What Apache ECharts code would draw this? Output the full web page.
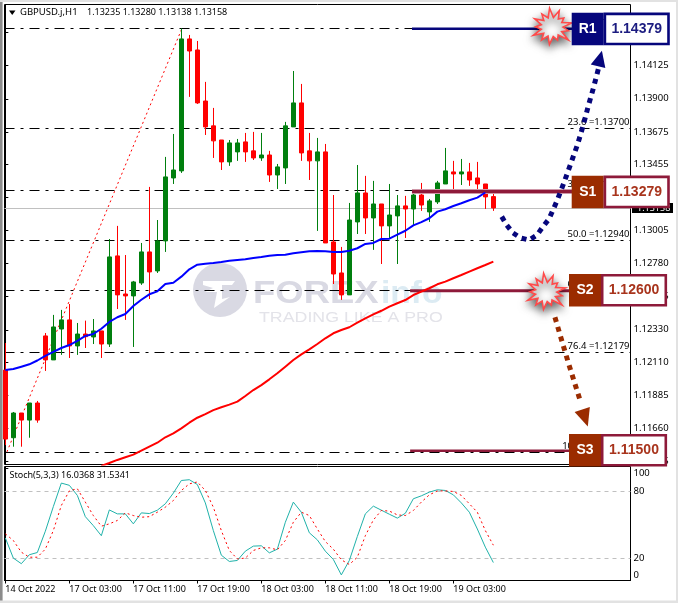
<!DOCTYPE html>
<html><head><meta charset="utf-8">
<style>html,body{margin:0;padding:0;background:#fff}#c{width:678px;height:603px}</style>
<script src="https://cdn.jsdelivr.net/npm/echarts@6/dist/echarts.min.js"></script>
</head><body><div id="c"></div>
<script>
const opens=[1.12056,1.11596,1.11764,1.11716,1.11832,1.12288,1.12125,1.12335,1.12397,1.12220,1.12301,1.12281,1.12322,1.12233,1.12832,1.12573,1.12560,1.12648,1.12859,1.12730,1.12934,1.13362,1.13410,1.14307,1.14232,1.13885,1.13716,1.13620,1.13471,1.13539,1.13607,1.13546,1.13498,1.13518,1.13382,1.13430,1.13709,1.13872,1.13546,1.13478,1.13539,1.12927,1.12716,1.12567,1.13063,1.13260,1.13090,1.13185,1.13036,1.13104,1.13172,1.13151,1.13246,1.13131,1.13199,1.13321,1.13403,1.13389,1.13403,1.13362,1.13321,1.13235];
const closes=[1.11587,1.11764,1.11716,1.11832,1.11716,1.12125,1.12349,1.12397,1.12220,1.12301,1.12283,1.12322,1.12233,1.12825,1.12567,1.12560,1.12655,1.12859,1.12723,1.12934,1.13369,1.13416,1.14307,1.14225,1.13872,1.13709,1.13614,1.13471,1.13600,1.13600,1.13539,1.13498,1.13518,1.13382,1.13437,1.13716,1.13872,1.13532,1.13478,1.13539,1.12920,1.12709,1.12567,1.13076,1.13260,1.13090,1.13185,1.13036,1.13110,1.13172,1.13151,1.13246,1.13178,1.13206,1.13328,1.13410,1.13389,1.13403,1.13348,1.13321,1.13233,1.13158];
const lows=[1.11546,1.11535,1.11535,1.11596,1.11698,1.12050,1.12125,1.12159,1.12138,1.12159,1.12206,1.12233,1.12138,1.12213,1.12471,1.12397,1.12213,1.12635,1.12539,1.12716,1.12859,1.13321,1.13396,1.13913,1.13865,1.13654,1.13498,1.13416,1.13444,1.13478,1.13471,1.13484,1.13478,1.13335,1.13287,1.13321,1.13709,1.13478,1.13348,1.13002,1.12920,1.12641,1.12533,1.12567,1.12981,1.12981,1.12873,1.12777,1.12954,1.12777,1.12954,1.13042,1.13138,1.13063,1.13185,1.13321,1.13274,1.13314,1.13308,1.13267,1.13151,1.13138];
const highs=[1.12240,1.11771,1.11764,1.11832,1.11846,1.12308,1.12431,1.12465,1.12505,1.12376,1.12392,1.12403,1.12322,1.12947,1.13036,1.12838,1.12662,1.12920,1.13301,1.13076,1.13505,1.13661,1.14379,1.14334,1.14293,1.14015,1.13838,1.13620,1.13620,1.13627,1.13668,1.13675,1.13668,1.13546,1.13457,1.13743,1.14089,1.14001,1.13668,1.13634,1.13593,1.13246,1.12893,1.13192,1.13450,1.13376,1.13342,1.13185,1.13321,1.13246,1.13240,1.13280,1.13328,1.13219,1.13342,1.13566,1.13478,1.13491,1.13464,1.13471,1.13321,1.13280];
const blueMA=[1.12056,1.12063,1.12079,1.12095,1.12121,1.12152,1.12179,1.12206,1.12226,1.12254,1.12288,1.12301,1.12337,1.12383,1.12415,1.12437,1.12491,1.12534,1.12571,1.12591,1.12641,1.12650,1.12691,1.12741,1.12772,1.12779,1.12784,1.12791,1.12799,1.12804,1.12809,1.12818,1.12825,1.12833,1.12838,1.12840,1.12850,1.12857,1.12863,1.12865,1.12863,1.12859,1.12859,1.12867,1.12884,1.12913,1.12920,1.12947,1.12949,1.12976,1.13003,1.13040,1.13062,1.13088,1.13133,1.13149,1.13171,1.13190,1.13210,1.13228,1.13263];
const redMAStart=12;
const redMA=[1.11404,1.11424,1.11445,1.11463,1.11481,1.11508,1.11535,1.11562,1.11599,1.11626,1.11660,1.11698,1.11732,1.11757,1.11784,1.11803,1.11821,1.11841,1.11880,1.11920,1.11954,1.11993,1.12034,1.12079,1.12124,1.12163,1.12197,1.12233,1.12272,1.12306,1.12328,1.12347,1.12378,1.12408,1.12435,1.12459,1.12487,1.12510,1.12532,1.12566,1.12589,1.12612,1.12639,1.12657,1.12680,1.12702,1.12725,1.12748,1.12770,1.12793];
const stochK=[38,20,15,23,25,44,66,87,85,76,57,49,40,63,59.5,59.5,50.6,60.4,59.8,62.8,68.5,78,89.3,90,85.7,69.3,44.6,22.6,17,17.9,26.2,30.7,31,24.7,28,52,70,61,42.6,36.3,26.2,18.8,5,17.9,39.3,59.5,66.4,62.8,59.2,55.7,60,73,75.6,78.9,81,80.4,76.5,69.3,61,46,29.8,16.04];
const stochD=[41.7,35.7,25.3,20.8,20.8,28,44.6,67,80,82,70,58,48.5,50.6,53.6,60.4,58,56.5,57,61,65.5,71.4,80.4,86.3,88,80.4,65.5,44.6,26.8,19.3,20,26.8,29.2,29.2,27.4,35.7,52,61,58,46,34.8,28,18.5,14.3,20.8,40,54,62.5,62,58.6,58,62.5,70,76.5,80,80,79.5,76,68.5,61,44.6,31.53];
const timeTicks=[0,8,16,24,32,40,48,56];
const timeLabels=['14 Oct 2022','17 Oct 03:00','17 Oct 11:00','17 Oct 19:00','18 Oct 03:00','18 Oct 11:00','18 Oct 19:00','19 Oct 03:00'];
const priceTicks=[1.14350,1.14125,1.13900,1.13675,1.13455,1.13230,1.13005,1.12780,1.12555,1.12330,1.12110,1.11885,1.11660,1.11435];
const stochTicks=[0,20,80,100];
const stochLevels=[20,80];
const fibRatios=['0.0','23.6','38.2','50.0','61.8','76.4','100.0'];
const fibPrices=[1.14379,1.13700,1.13279,1.12940,1.12600,1.12179,1.11500];
const lastPrice=1.13158;
const fibTrend=[[0.2,1.11500],[22.08,1.14379]];
const r1Line=[[50.83,1.14377],[70.83,1.14377]];
const s1Line=[[50.83,1.13270],[70.83,1.13270]];
const s2Line=[[50.6,1.12595],[70.6,1.12595]];
const s3Line=[[50.6,1.11508],[70.6,1.11508]];
const upPath=[[62.05,1.13099],[62.67,1.13042],[63.46,1.12988],[64.42,1.12954],[65.46,1.12940],[66.46,1.12974],[67.21,1.13031],[67.96,1.13083],[68.96,1.13206],[69.83,1.13330],[70.71,1.13464],[71.55,1.13593],[72.25,1.13722],[72.87,1.13851],[73.55,1.13981],[74.17,1.14112]];
const upArrow=[74.33,1.14174];
const downPath=[[68.7,1.12415],[69.75,1.12220],[70.46,1.12091],[71.96,1.11830]];
const downArrow=[72.46,1.11730];

const FONT='"Noto Sans",sans-serif';
const NAVY='#06067c',BROWN='#9b2c00',MAROON='#8e1a3a',RED='#ff0000',GREEN='#007f0e';
const xMin=-0.104,xMax=78.146;
const candles=opens.map((o,i)=>[i,o,closes[i],lows[i],highs[i]]);
const lineS=(name,data,color,width,type,extra)=>Object.assign({name,type:'line',data,showSymbol:false,symbol:'none',silent:true,animation:false,
  lineStyle:{color,width,type:type||'solid',opacity:1},z:3},extra||{});

function burst(cx,cy,rx,ry){
  const outer=[1,.78,1.02,.85,1.1,.8,1,.9,1.05,.82,.98,.9,1.08];
  const pts=[];
  const n=outer.length;
  for(let k=0;k<n;k++){
    const a=2*Math.PI*k/n-1.2, b=a+Math.PI/n;
    pts.push([cx+rx*outer[k]*Math.cos(a),cy+ry*outer[k]*Math.sin(a)]);
    pts.push([cx+rx*.55*Math.cos(b),cy+ry*.55*Math.sin(b)]);
  }
  return {type:'polygon',z:9,shape:{points:pts},style:{fill:'#fff',stroke:'#ff4a4a',lineWidth:1.6,shadowBlur:9,shadowColor:'rgba(0,0,0,.6)',shadowOffsetY:4}};
}
function box(tag,val,y,x,dark,edge,txt){
  const h=32.5;
  return [
    {type:'rect',z:10,shape:{x:x,y:y,width:32,height:h},style:{fill:dark}},
    {type:'rect',z:10,shape:{x:x+32+1.2,y:y+1.2,width:63.6,height:h-2.4},style:{fill:'#fff',stroke:edge,lineWidth:2.6}},
    {type:'text',z:11,x:x+16,y:y+h/2,style:{text:tag,fill:'#fff',font:'bold 14px "Liberation Sans"',align:'center',verticalAlign:'middle'}},
    {type:'text',z:11,x:x+65,y:y+h/2,style:{text:val,fill:txt,font:'bold 14px "Liberation Sans"',align:'center',verticalAlign:'middle'}}
  ];
}

const chart=echarts.init(document.getElementById('c'),null,{renderer:'canvas',width:678,height:603});
chart.setOption({
  animation:false,backgroundColor:'#fff',
  grid:[
    {left:4.5,top:4.5,width:626,height:460,show:true,borderColor:'#000',borderWidth:1,backgroundColor:'transparent'},
    {left:4.5,top:466.5,width:626,height:114,show:true,borderColor:'#000',borderWidth:1,backgroundColor:'transparent'}
  ],
  xAxis:[
    {type:'value',gridIndex:0,min:xMin,max:xMax,axisLine:{show:false},axisTick:{show:false},axisLabel:{show:false},splitLine:{show:false}},
    {type:'value',gridIndex:1,min:xMin,max:xMax,splitLine:{show:false},
     axisLine:{show:true,lineStyle:{color:'#000'},onZero:false},
     axisTick:{show:true,length:3,lineStyle:{color:'#000'},customValues:timeTicks},
     axisLabel:{show:true,customValues:timeTicks,color:'#000',fontFamily:FONT,fontSize:9,margin:4,align:'left',hideOverlap:false,showMinLabel:true,
       formatter:v=>timeLabels[timeTicks.indexOf(Math.round(v))]||''}}
  ],
  yAxis:[
    {type:'value',gridIndex:0,position:'right',min:1.11414,max:1.14541,splitLine:{show:false},
     axisLine:{show:true,lineStyle:{color:'#000'}},
     axisTick:{show:true,length:3,lineStyle:{color:'#000'},customValues:priceTicks},
     axisLabel:{show:true,customValues:priceTicks,color:'#000',fontFamily:FONT,fontSize:9.5,margin:3,formatter:v=>v.toFixed(5)}},
    {type:'value',gridIndex:1,position:'right',min:0,max:101.8,splitLine:{show:false},
     axisLine:{show:true,lineStyle:{color:'#000'}},
     axisTick:{show:true,length:3,lineStyle:{color:'#000'},customValues:stochTicks},
     axisLabel:{show:true,customValues:stochTicks,color:'#000',fontFamily:FONT,fontSize:9.5,margin:3,showMinLabel:true,showMaxLabel:true,
       formatter:(v)=>String(v),
       verticalAlignMinLabel:'bottom',verticalAlignMaxLabel:'top'}}
  ],
  series:[
    {name:'fib',type:'line',xAxisIndex:0,yAxisIndex:0,data:[],silent:true,z:1,
     markLine:{z:1,silent:true,symbol:'none',animation:false,precision:5,
       data:[{yAxis:lastPrice,lineStyle:{color:'#c0c0c0',width:1,type:'solid'},label:{show:false}}].concat(fibPrices.map((p,i)=>({yAxis:p,
         lineStyle:{color:'#000',width:1,type:[10,6,3,6]},
         label:{show:true,position:'insideEndTop',distance:[1,1],color:'#000',fontFamily:FONT,fontSize:9.5,
           formatter:fibRatios[i]+' ='+p.toFixed(5)}})))}},
    {name:'GBPUSD',type:'candlestick',xAxisIndex:0,yAxisIndex:0,data:candles,barWidth:5,silent:true,animation:false,z:2,clip:true,
     itemStyle:{color:GREEN,color0:RED,borderColor:GREEN,borderColor0:RED,borderWidth:1}},
    lineS('trend',fibTrend,RED,1,[2,3],{z:2}),
    lineS('R1',r1Line,NAVY,2.5),
    lineS('S1 edge',s1Line,'#cf97a8',5),
    lineS('S1',s1Line,MAROON,3),
    lineS('S2',s2Line,MAROON,3),
    lineS('S3',s3Line,MAROON,2.5),
    lineS('MA blue',blueMA.map((v,i)=>[i,v]),'#0000ff',2),
    lineS('MA red',redMA.map((v,i)=>[i+redMAStart,v]),'#ff0000',2),
    lineS('up',upPath,NAVY,5,[5,5],{z:4,markPoint:{silent:true,animation:false,data:[{coord:upArrow,symbol:'triangle',symbolSize:[15,16],symbolRotate:-14,itemStyle:{color:NAVY},label:{show:false}}]}}),
    lineS('down',downPath,BROWN,5,[5,5],{z:4,markPoint:{silent:true,animation:false,data:[{coord:downArrow,symbol:'triangle',symbolSize:[16,18],symbolRotate:198,itemStyle:{color:BROWN},label:{show:false}}]}}),
    lineS('K',stochK.map((v,i)=>[i,v]),'#20b2aa',1,'solid',{xAxisIndex:1,yAxisIndex:1,
      markLine:{z:1,silent:true,symbol:'none',animation:false,label:{show:false},lineStyle:{color:'#c0c0c0',width:1,type:[4,4]},data:stochLevels.map(v=>({yAxis:v}))}}),
    lineS('D',stochD.map((v,i)=>[i,v]),'#ff0000',1,[2,3],{xAxisIndex:1,yAxisIndex:1})
  ],
  graphic:{elements:[
    {type:'rect',z:20,shape:{x:0,y:0,width:2.6,height:603},style:{fill:'#8c8c8c'}},
    {type:'rect',z:20,shape:{x:0,y:0,width:678,height:2},style:{fill:'#e2e2e2'}},
    {type:'rect',z:20,shape:{x:676,y:0,width:2,height:603},style:{fill:'#e2e2e2'}},
    {type:'rect',z:20,shape:{x:0,y:600.5,width:678,height:2.5},style:{fill:'#e2e2e2'}},
    {type:'polygon',z:6,shape:{points:[[9,10.5],[15.5,10.5],[12.2,15]]},style:{fill:'#000'}},
    {type:'text',z:6,x:20,y:12.5,style:{text:'GBPUSD.j,H1',fill:'#000',font:'9.5px '+FONT,verticalAlign:'middle'}},
    {type:'text',z:6,x:87,y:12.5,style:{text:'1.13235 1.13280 1.13138 1.13158',fill:'#000',font:'9px '+FONT,verticalAlign:'middle'}},
    {type:'text',z:6,x:9.5,y:475.7,style:{text:'Stoch(5,3,3) 16.0368 31.5341',fill:'#000',font:'9px '+FONT,verticalAlign:'middle'}},
    // watermark
    {type:'circle',z:0,shape:{cx:220,cy:290,r:27},style:{fill:'#d9d9e3'}},
    {type:'polygon',z:0,shape:{points:[[203,281],[235,281],[232,285],[222,285],[222,299],[230,297],[214,308],[217,292],[205,292],[213,288],[203,285]]},style:{fill:'#fff'}},
    {type:'text',z:0,x:253,y:294,scaleX:1.14,style:{text:'FOREX',fill:'#d9d9e3',font:'bold 32px "Liberation Sans"',verticalAlign:'middle'}},
    {type:'text',z:0,x:381,y:294,scaleX:1.05,style:{text:'info',fill:'#dcebf3',font:'bold 32px "Liberation Sans"',verticalAlign:'middle'}},
    {type:'text',z:0,x:259,y:318,scaleX:1.27,style:{text:'TRADING LIKE A PRO',fill:'#e3e3e9',font:'14px "Liberation Sans"',verticalAlign:'middle'}},
    // last price tag
    {type:'rect',z:5,shape:{x:632,y:203,width:41,height:10},style:{fill:'#000'}},
    {type:'text',z:5,x:637,y:208.3,style:{text:lastPrice.toFixed(5),fill:'#fff',font:'9px '+FONT,verticalAlign:'middle'}},
    burst(552,27,20,17.5),
    burst(546,292,19.5,17.5),
    ...box('R1','1.14379',12.7,571.7,NAVY,NAVY,'#1c1c80'),
    ...box('S1','1.13279',175.7,571.7,BROWN,MAROON,'#a8341c'),
    ...box('S2','1.12600',274,569,BROWN,MAROON,'#a8341c'),
    ...box('S3','1.11500',434,569,BROWN,MAROON,'#a8341c')
  ]}
});
</script></body></html>
